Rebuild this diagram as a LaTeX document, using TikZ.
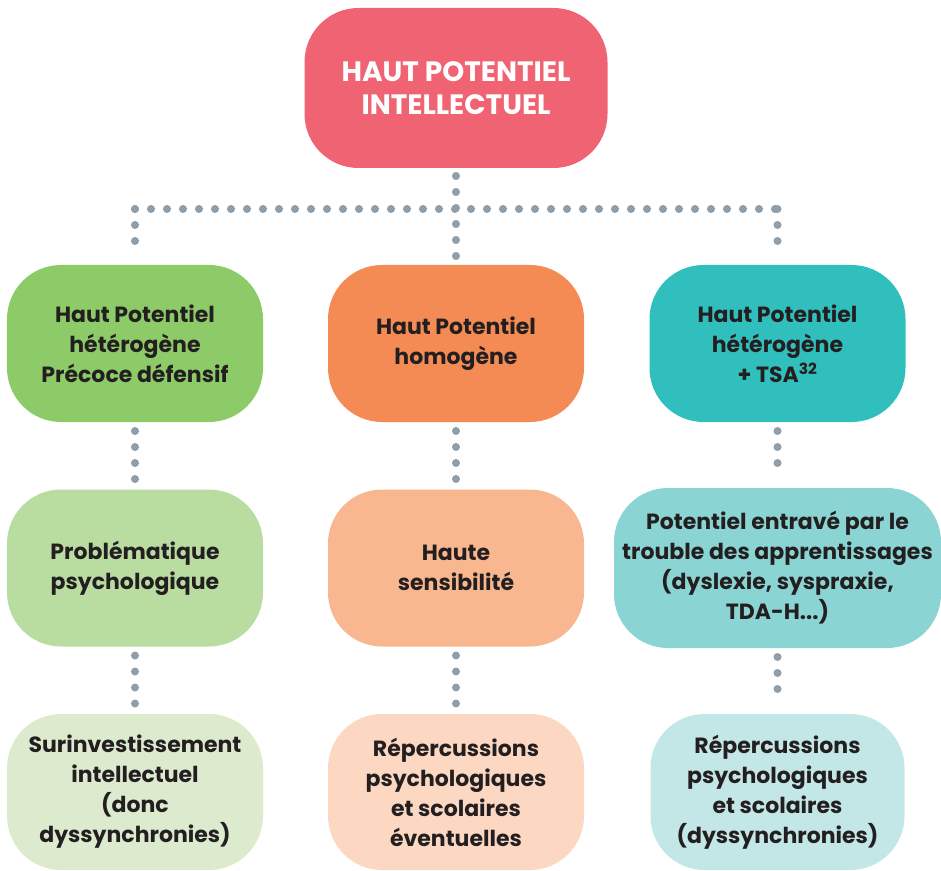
\documentclass[tikz,border=0pt]{standalone}
\usepackage{fontspec}
\setmainfont{Poppins}
\usepackage{tikz}
\usetikzlibrary{positioning, matrix}

\definecolor{hpired}{HTML}{F06372}
\definecolor{greenA}{HTML}{8DCB69}
\definecolor{greenB}{HTML}{B9DDA0}
\definecolor{greenC}{HTML}{DCEBCD}
\definecolor{orangeA}{HTML}{F58B54}
\definecolor{orangeB}{HTML}{F9B78F}
\definecolor{orangeC}{HTML}{FCD8C2}
\definecolor{tealA}{HTML}{31BFBE}
\definecolor{tealB}{HTML}{8AD5D3}
\definecolor{tealC}{HTML}{C3E7E7}
\definecolor{ink}{HTML}{231F20}
\definecolor{dotgrey}{HTML}{8E9EAB}

\tikzset{
    blob/.style={rounded corners=54pt, inner sep=3pt, outer sep=0pt, align=center,
        text=ink, font=\bfseries\fontsize{22}{30}\selectfont,
        minimum width=256pt, minimum height=157pt},
    dotline/.style={draw=dotgrey, line width=8pt, line cap=round,
        dash pattern=on 0pt off 16pt}
}

\begin{document}
\begin{tikzpicture}[x=1pt,y=1pt]
        \useasboundingbox (0,0) rectangle (941,870);
        \matrix (m) [row sep=66pt, column sep=65pt, inner sep=0pt, outer sep=0pt,
            matrix anchor=north west, at={(7,605)}]
        {%
            \node (defensif) [blob, fill=greenA] {Haut Potentiel\\hétérogène\\Précoce défensif}; &
            \node (homogene) [blob, fill=orangeA] {Haut Potentiel\\homogène}; &[-35pt]
            \node (tsa) [blob, fill=tealA] {Haut Potentiel\\hétérogène\\+ TSA\textsuperscript{32}}; \\
            \node (psycho) [blob, fill=greenB] {Problématique\\psychologique}; &
            \node (sensib) [blob, fill=orangeB] {Haute\\sensibilité}; &[-35pt]
            \node (entrave) [blob, fill=tealB, minimum width=327pt, minimum height=160pt]
                {Potentiel entravé par le\\trouble des apprentissages\\(dyslexie, syspraxie,\\TDA-H...)}; \\
            \node (surinv) [blob, fill=greenC, minimum height=156pt]
                {Surinvestissement\\intellectuel\\(donc\\dyssynchronies)}; &
            \node (reperc) [blob, fill=orangeC, minimum height=156pt]
                {Répercussions\\psychologiques\\et scolaires\\éventuelles}; &[-35pt]
            \node (dyssync) [blob, fill=tealC, minimum height=156pt, minimum width=254pt]
                {Répercussions\\psychologiques\\et scolaires\\(dyssynchronies)}; \\
        };
        \node (hpi) [blob, above=97pt of homogene, fill=hpired, text=white,
            minimum width=303pt, minimum height=160pt,
            font=\bfseries\fontsize{28}{33}\selectfont] {HAUT POTENTIEL\\INTELLECTUEL};
        \coordinate [above=56pt of defensif] (barl);
        \coordinate [above=56pt of tsa] (barr);
        \path[dotline] (barl) edge (barr)
            (hpi) edge[shorten <=8pt, shorten >=8pt] (homogene)
            (barl) edge[shorten >=8pt] (defensif)
            (barr) edge[shorten >=8pt] (tsa);
        \path[dotline, shorten <=9pt, shorten >=9pt]
            (defensif) edge (psycho)
            (psycho) edge (surinv)
            (homogene) edge (sensib)
            (sensib) edge (reperc)
            (tsa) edge (entrave)
            (entrave) edge (dyssync);
    \end{tikzpicture}
\end{document}
